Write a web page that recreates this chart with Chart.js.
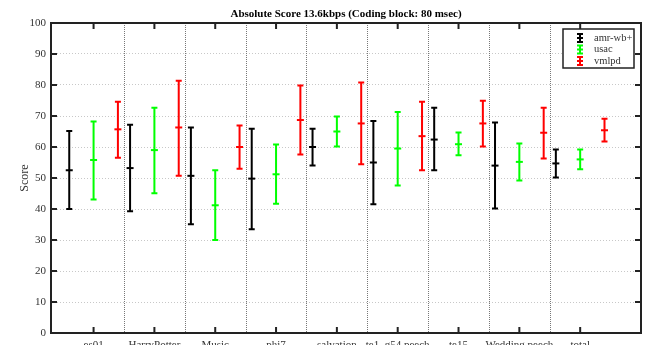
<!DOCTYPE html>
<html>
<head>
<meta charset="utf-8">
<script src="https://cdn.jsdelivr.net/npm/chart.js@4/dist/chart.umd.min.js"></script>
<style>
  html, body { margin: 0; padding: 0; background: #fff; }
  #wrap { width: 651px; height: 345px; }
</style>
</head>
<body>
<div id="wrap"><canvas id="chart" width="651" height="345"></canvas></div>
<script>
// ── Daten ─────────────────────────────────────────────────────────────────────
const categories = ['es01', 'HarryPotter', 'Music', 'phi7', 'salvation',
                    'te1  g54 peech', 'te15', 'Wedding peech', 'total'];
const yTicks     = [0, 10, 20, 30, 40, 50, 60, 70, 80, 90, 100];
const titleText  = 'Absolute Score 13.6kbps (Coding block: 80 msec)';

const amrMean   = [52.5, 53.2, 50.7, 49.8, 60.0, 55.0, 62.4, 54.0, 54.7];
const amrLow    = [40.0, 39.3, 35.1, 33.5, 54.0, 41.5, 52.5, 40.2, 50.2];
const amrHigh   = [65.2, 67.2, 66.3, 65.9, 65.9, 68.4, 72.7, 67.9, 59.2];

const usacMean  = [55.8, 59.0, 41.2, 51.2, 65.0, 59.5, 60.9, 55.2, 56.0];
const usacLow   = [43.1, 45.1, 30.0, 41.7, 60.2, 47.6, 57.3, 49.2, 52.8];
const usacHigh  = [68.2, 72.7, 52.5, 60.8, 69.8, 71.3, 64.7, 61.1, 59.2];

const vmlpdMean = [65.7, 66.3, 60.0, 68.7, 67.6, 63.5, 67.6, 64.6, 65.4];
const vmlpdLow  = [56.5, 50.7, 53.0, 57.6, 54.4, 52.5, 60.2, 56.3, 61.8];
const vmlpdHigh = [74.6, 81.4, 66.9, 79.8, 80.8, 74.6, 74.9, 72.7, 69.1];

const SERIF = "'Liberation Serif', 'Times New Roman', serif";

// Position innerhalb einer Gruppe: links / Mitte / rechts
function series(label, color, offset, mean, low, high) {
  return {
    label,
    data: mean.map((v, i) => ({ x: i + 1 + offset, y: v })),
    low, high,
    borderColor: color, backgroundColor: color,
    pointStyle: 'line', pointRadius: 3.5, borderWidth: 2,
  };
}

// ── Plugins ───────────────────────────────────────────────────────────────────
const errorBars = {
  id: 'errorBars',
  beforeDatasetsDraw(chart) {
    const { ctx, scales: { x, y } } = chart;
    ctx.save();
    chart.data.datasets.forEach(ds => {
      ctx.strokeStyle = ds.borderColor;
      ctx.lineWidth = 2;
      ds.data.forEach((p, i) => {
        const px = x.getPixelForValue(p.x);
        const lo = y.getPixelForValue(ds.low[i]);
        const hi = y.getPixelForValue(ds.high[i]);
        ctx.beginPath();
        ctx.moveTo(px, lo); ctx.lineTo(px, hi);
        ctx.moveTo(px - 3, lo); ctx.lineTo(px + 3, lo);
        ctx.moveTo(px - 3, hi); ctx.lineTo(px + 3, hi);
        ctx.stroke();
      });
    });
    ctx.restore();
  },
};

const frame = {
  id: 'frame',
  beforeDatasetsDraw(chart) {
    // gepunktete Trennlinien zwischen den Gruppen
    const { ctx, chartArea: a, scales: { x } } = chart;
    ctx.save();
    ctx.strokeStyle = '#777';
    ctx.lineWidth = 1;
    ctx.setLineDash([1, 1]);
    for (let i = 1; i < categories.length; i++) {
      const px = Math.round(x.getPixelForValue(i + 0.5)) + 0.5;
      ctx.beginPath(); ctx.moveTo(px, a.top); ctx.lineTo(px, a.bottom); ctx.stroke();
    }
    ctx.restore();
  },
  afterDatasetsDraw(chart) {
    const { ctx, chartArea: a, scales: { x, y } } = chart;
    ctx.save();
    ctx.strokeStyle = '#222';
    ctx.lineWidth = 2;
    ctx.strokeRect(a.left, a.top, a.right - a.left, a.bottom - a.top);
    ctx.beginPath();
    yTicks.forEach(v => {
      const py = y.getPixelForValue(v);
      ctx.moveTo(a.left, py);  ctx.lineTo(a.left + 6, py);
      ctx.moveTo(a.right, py); ctx.lineTo(a.right - 6, py);
    });
    categories.forEach((c, i) => {
      const px = x.getPixelForValue(i + 1);
      ctx.moveTo(px, a.bottom); ctx.lineTo(px, a.bottom - 6);
      ctx.moveTo(px, a.top);    ctx.lineTo(px, a.top + 6);
    });
    ctx.stroke();

    // Titel über der Plotfläche zentriert
    ctx.fillStyle = '#000';
    ctx.font = `bold 11px ${SERIF}`;
    ctx.textAlign = 'center';
    ctx.textBaseline = 'middle';
    ctx.fillText(titleText, (a.left + a.right) / 2, a.top - 9);
    ctx.restore();
  },
  afterDraw(chart) {
    // Legende oben rechts mit Fehlerbalken-Symbol
    const { ctx, chartArea: a } = chart;
    const bx = a.right - 78, by = a.top + 6, bw = 71, bh = 39;
    ctx.save();
    ctx.fillStyle = '#fff';
    ctx.fillRect(bx, by, bw, bh);
    ctx.strokeStyle = '#222';
    ctx.lineWidth = 1.5;
    ctx.strokeRect(bx, by, bw, bh);
    ctx.font = `10.5px ${SERIF}`;
    ctx.textBaseline = 'middle';
    chart.data.datasets.forEach((ds, i) => {
      const cy = by + 9 + i * 11.5;
      const sx = bx + 17;
      ctx.strokeStyle = ds.borderColor;
      ctx.lineWidth = 2;
      ctx.beginPath();
      ctx.moveTo(sx, cy - 4); ctx.lineTo(sx, cy + 4);
      ctx.moveTo(sx - 3, cy - 4); ctx.lineTo(sx + 3, cy - 4);
      ctx.moveTo(sx - 3, cy + 4); ctx.lineTo(sx + 3, cy + 4);
      ctx.moveTo(sx - 3, cy); ctx.lineTo(sx + 3, cy);
      ctx.stroke();
      ctx.fillStyle = '#333';
      ctx.fillText(ds.label, bx + 31, cy);
    });
    ctx.restore();
  },
};

// ── Chart ─────────────────────────────────────────────────────────────────────
new Chart(document.getElementById('chart').getContext('2d'), {
  type: 'scatter',
  data: {
    datasets: [
      series('amr-wb+', '#000000', -0.4, amrMean,   amrLow,   amrHigh),
      series('usac',    '#00ff00',  0.0, usacMean,  usacLow,  usacHigh),
      series('vmlpd',   '#ff0000',  0.4, vmlpdMean, vmlpdLow, vmlpdHigh),
    ],
  },
  plugins: [errorBars, frame],
  options: {
    responsive: false, animation: false,
    layout: { padding: { left: 0, right: 10, top: 23, bottom: 0 } },
    plugins: {
      legend:  { display: false },
      tooltip: { enabled: false },
      title:   { display: false },
    },
    scales: {
      x: {
        type: 'linear', min: 0.3, max: 10,
        afterBuildTicks: s => { s.ticks = categories.map((c, i) => ({ value: i + 1 })); },
        afterFit: s => { s.height = 12; },
        ticks: {
          callback: v => categories[v - 1] ?? '',
          autoSkip: false, maxRotation: 0, padding: 6,
          color: '#333', font: { family: SERIF, size: 11 },
        },
        grid: { display: false, drawTicks: false },
        border: { display: false },
      },
      y: {
        min: 0, max: 100,
        afterBuildTicks: s => { s.ticks = yTicks.map(v => ({ value: v })); },
        afterFit: s => { s.width = 51; },
        ticks: { padding: 5, color: '#333', font: { family: SERIF, size: 11 } },
        grid: { color: '#c8c8c8', lineWidth: 1, drawTicks: false },
        border: { display: false, dash: [1, 2] },
        title: {
          display: true, text: 'Score', color: '#333',
          font: { family: SERIF, size: 12 }, padding: { top: 18, bottom: 0 },
        },
      },
    },
  },
});
</script>
</body>
</html>
